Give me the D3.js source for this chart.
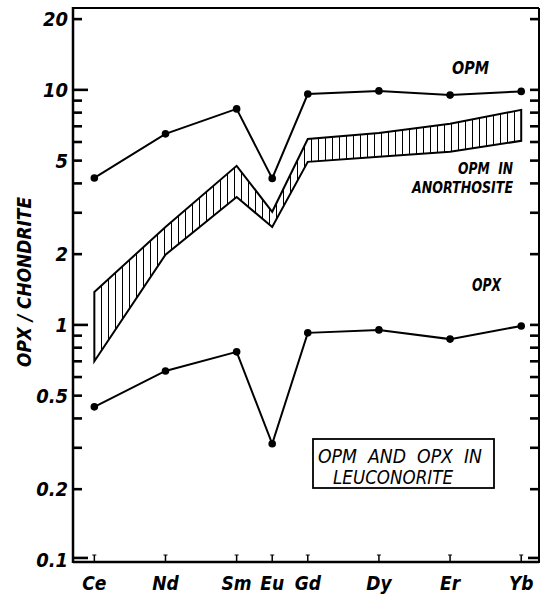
<!DOCTYPE html>
<html>
<head>
<meta charset="utf-8">
<script src="https://cdn.jsdelivr.net/npm/d3@7/dist/d3.min.js"></script>
<style>
  html, body { margin: 0; padding: 0; background: #fff; }
  svg text { font-family: "DejaVu Sans Condensed", "DejaVu Sans", sans-serif; font-style: italic; fill: #000; }
</style>
</head>
<body>
<svg id="chart" width="550" height="596"></svg>
<script>
// Rare-earth elements and their atomic numbers (x positions follow Z)
const elements = ["Ce", "Nd", "Sm", "Eu", "Gd", "Dy", "Er", "Yb"];
const atomicNumbers = [58, 60, 62, 63, 64, 66, 68, 70];

// Orthopyroxene megacrysts (OPM) in leuconorite, chondrite-normalised
const opm = [4.22, 6.5, 8.3, 4.2, 9.6, 9.9, 9.5, 9.85];
// Orthopyroxene (OPX) in leuconorite
const opx = [0.448, 0.637, 0.768, 0.312, 0.925, 0.952, 0.87, 0.99];
// OPM in anorthosite: range envelope (upper / lower)
const bandUpper = [1.38, 2.61, 4.75, 3.03, 6.18, 6.56, 7.17, 8.22];
const bandLower = [0.70, 1.99, 3.5, 2.61, 4.94, 5.19, 5.45, 6.07];

const yTickLabels = [0.1, 0.2, 0.5, 1, 2, 5, 10, 20];
const yMinorTicks = [0.2, 0.3, 0.4, 0.5, 0.6, 0.7, 0.8, 0.9,
                     1, 2, 3, 4, 5, 6, 7, 8, 9, 10, 20];

const svg = d3.select("#chart");
const plotLeft = 73, plotRight = 539, plotTop = 8, plotBottom = 562;

const x = d3.scaleLinear().domain([57.4, 70.5]).range([plotLeft, plotRight]);
const y = d3.scaleLog().domain([0.098, 22.3]).range([plotBottom, plotTop]);

// hatch pattern for the anorthosite envelope
const defs = svg.append("defs");
const pat = defs.append("pattern")
  .attr("id", "vhatch")
  .attr("patternUnits", "userSpaceOnUse")
  .attr("width", 7).attr("height", 10);
pat.append("rect").attr("width", 7).attr("height", 10).attr("fill", "#fff");
pat.append("line").attr("x1", 3.5).attr("x2", 3.5).attr("y1", 0).attr("y2", 10)
  .attr("stroke", "#000").attr("stroke-width", 1);

// frame
const frame = svg.append("g").attr("stroke", "#000").attr("fill", "none");
frame.append("line").attr("x1", plotLeft).attr("x2", plotLeft).attr("y1", plotTop - 1).attr("y2", plotBottom + 1).attr("stroke-width", 2.5);
frame.append("line").attr("x1", plotLeft).attr("x2", plotRight).attr("y1", plotTop).attr("y2", plotTop).attr("stroke-width", 2);
frame.append("line").attr("x1", plotRight).attr("x2", plotRight).attr("y1", plotTop).attr("y2", plotBottom + 1).attr("stroke-width", 2);
frame.append("line").attr("x1", plotLeft).attr("x2", plotRight).attr("y1", plotBottom).attr("y2", plotBottom).attr("stroke-width", 2.5);

// y tick labels
svg.append("g").selectAll("text").data(yTickLabels).join("text")
  .attr("x", plotLeft - 5)
  .attr("y", d => y(d) + 7)
  .attr("text-anchor", "end")
  .attr("font-size", 20)
  .attr("font-weight", "bold")
  .text(d => d);

// bottom ticks pointing upward with small serifs
const xt = svg.append("g").selectAll("g").data(atomicNumbers).join("g")
  .attr("transform", d => `translate(${x(d)},${plotBottom})`);
xt.append("line").attr("y1", 0).attr("y2", -7)
  .attr("stroke", "#000").attr("stroke-width", 1.5);
xt.append("line").attr("x1", -2).attr("x2", 2).attr("y1", -7).attr("y2", -7)
  .attr("stroke", "#000").attr("stroke-width", 1);

// x labels
svg.append("g").selectAll("text").data(elements).join("text")
  .attr("x", (d, i) => x(atomicNumbers[i]))
  .attr("y", 590)
  .attr("text-anchor", "middle")
  .attr("font-size", 19)
  .attr("font-weight", "bold")
  .text(d => d);

// y axis title
svg.append("text")
  .attr("transform", "translate(31,282) rotate(-90)")
  .attr("text-anchor", "middle")
  .attr("font-size", 19)
  .attr("font-weight", "bold")
  .attr("textLength", 170)
  .attr("lengthAdjust", "spacingAndGlyphs")
  .text("OPX / CHONDRITE");

// anorthosite envelope
const pts = atomicNumbers.map((z, i) => [x(z), y(bandUpper[i])])
  .concat(atomicNumbers.map((z, i) => [x(z), y(bandLower[i])]).reverse());
svg.append("path")
  .attr("d", d3.line()(pts) + "Z")
  .attr("fill", "url(#vhatch)")
  .attr("stroke", "#000")
  .attr("stroke-width", 2)
  .attr("stroke-linejoin", "miter");

// series lines with dots
function series(vals) {
  const line = d3.line().x((d, i) => x(atomicNumbers[i])).y(d => y(d));
  svg.append("path").datum(vals)
    .attr("d", line)
    .attr("fill", "none")
    .attr("stroke", "#000")
    .attr("stroke-width", 2);
  svg.append("g").selectAll("circle").data(vals).join("circle")
    .attr("cx", (d, i) => x(atomicNumbers[i]))
    .attr("cy", d => y(d))
    .attr("r", 3.8)
    .attr("fill", "#000");
}
series(opm);
series(opx);

// in-plot labels
function label(txt, xPos, yPos, size, width, anchor) {
  svg.append("text").attr("x", xPos).attr("y", yPos)
    .attr("text-anchor", anchor || "start")
    .attr("font-size", size).attr("font-weight", "bold")
    .attr("xml:space", "preserve")
    .attr("textLength", width).attr("lengthAdjust", "spacingAndGlyphs")
    .text(txt);
}
label("OPM", 452, 74, 18, 37);
label("OPM  IN", 458, 174, 16, 55);
label("ANORTHOSITE", 412, 193, 16, 101);
label("OPX", 472, 291, 17, 29);

// legend box
svg.append("rect").attr("x", 313).attr("y", 439).attr("width", 181).attr("height", 49)
  .attr("fill", "#fff").attr("stroke", "#000").attr("stroke-width", 1.8);
svg.append("text").attr("x", 318).attr("y", 463).attr("font-size", 19)
  .attr("xml:space", "preserve")
  .attr("textLength", 164).attr("lengthAdjust", "spacingAndGlyphs")
  .text("OPM  AND  OPX  IN");
svg.append("text").attr("x", 333).attr("y", 484).attr("font-size", 19)
  .attr("textLength", 120).attr("lengthAdjust", "spacingAndGlyphs")
  .text("LEUCONORITE");

// side ticks, drawn last so nothing sits over them; pointing inward
const tickSet = yMinorTicks.map(v => ({ v, yy: y(v) }))
  .concat([{ v: 0.1, yy: y(0.1) - 2 }]);
const sideTicks = svg.append("g").attr("class", "side-ticks");
sideTicks.selectAll("path.lt").data(tickSet).join("path")
  .attr("class", "lt")
  .attr("d", d => `M${plotLeft},${d.yy - 1.3}h${(d.v === 1 || d.v === 10 || d.v === 0.1) ? 15 : 9}v2.6h${-((d.v === 1 || d.v === 10 || d.v === 0.1) ? 15 : 9)}Z`)
  .attr("fill", "#000");
sideTicks.selectAll("path.rt").data(tickSet).join("path")
  .attr("class", "rt")
  .attr("d", d => `M${plotRight},${d.yy - 1.3}h${d.v === 0.1 ? -11 : -9}v2.6h${d.v === 0.1 ? 11 : 9}Z`)
  .attr("fill", "#000");
</script>
</body>
</html>
